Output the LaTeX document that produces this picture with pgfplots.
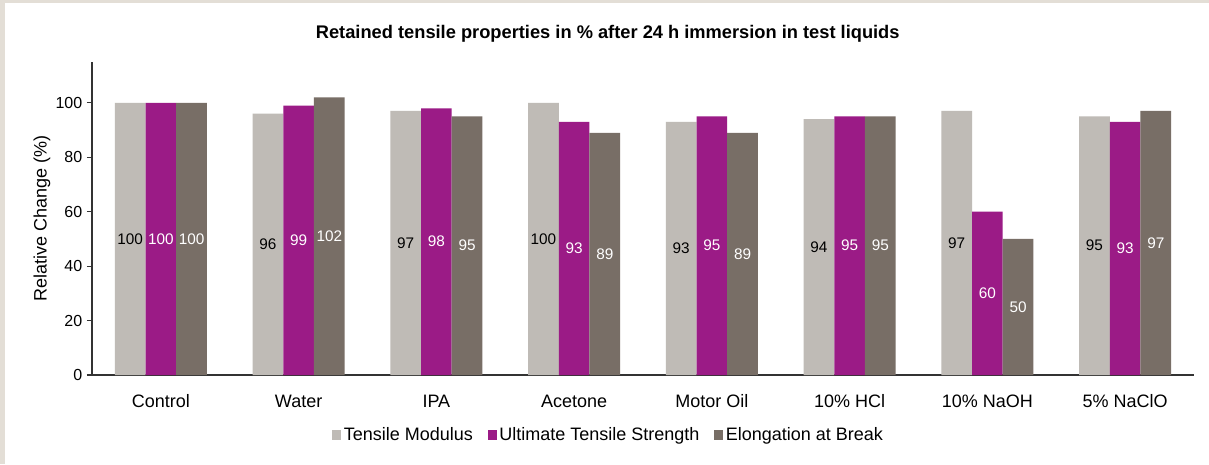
\documentclass[border=0pt]{standalone}
\usepackage{pgfplots}
\pgfplotsset{compat=1.18}
\usepackage{pgfplotstable}
\usepackage{fontspec}
\setmainfont{Liberation Sans}
\definecolor{tmcol}{HTML}{BFBBB6}
\definecolor{utscol}{HTML}{9B1B86}
\definecolor{eabcol}{HTML}{786E66}
\definecolor{beige}{HTML}{E3DED6}
\pgfplotstableread{
x tm uts eab
0 100 100 100
1 96 99 102
2 97 98 95
3 100 93 89
4 93 95 89
5 94 95 95
6 97 60 50
7 95 93 97
}\datatable
\begin{document}
\begin{tikzpicture}
\useasboundingbox (0,0) rectangle (906.75pt,-348pt);
\fill[beige] (0,0) rectangle (906.75pt,-348pt);
\fill[white] (3.75pt,-2.25pt) rectangle (906.75pt,-348pt);
\begin{axis}[
  at={(69pt,-281.25pt)}, anchor=south west,
  scale only axis, width=826.5pt, height=234.75pt,
  xmin=-0.5, xmax=7.5, ymin=0, ymax=115,
  axis x line*=bottom, axis y line*=left,
  axis line style={black!80, line width=0.8pt, -},
  xtick={0,...,7},
  xticklabels={Control,Water,IPA,Acetone,Motor Oil,10\% HCl,10\% NaOH,5\% NaClO},
  xtick style={draw=none},
  xticklabel style={font=\fontsize{13.5}{15}\selectfont, anchor=base, yshift=-20.8pt},
  ytick={0,20,...,100},
  tick align=outside, major tick length=3.75pt,
  ytick style={black!80, line width=0.8pt},
  yticklabel style={font=\fontsize{12}{14}\selectfont},
  /pgf/number format/assume math mode=true,
  ylabel={Relative Change (\%)},
  ylabel style={at={(axis description cs:-0.0454,0.5)}, anchor=center, font=\fontsize{13.5}{15}\selectfont},
  title={Retained tensile properties in \% after 24 h immersion in test liquids},
  title style={at={(axis description cs:0.468,1)}, anchor=base, yshift=11.6pt, font=\bfseries\fontsize{13.7}{15}\selectfont},
  ybar, bar width=23pt,
  nodes near coords,
  visualization depends on=rawy \as \rawy,
  nodes near coords style={anchor=center, yshift=-\rawy*1.02065pt, font=\fontsize{11.5}{13}\selectfont},
  legend columns=-1,
  legend style={at={(axis description cs:0.469,-0.1917)}, anchor=center, draw=none, fill=none,
    font=\fontsize{13.5}{15}\selectfont,
    /tikz/every even column/.append style={column sep=9pt},
    nodes={inner sep=2pt}},
  legend image code/.code={\fill[#1] (0pt,-3.4pt) rectangle (6.8pt,3.4pt);},
]
\addplot[fill=tmcol, draw=none, bar shift=-23pt, nodes near coords style={text=black}] table[x=x, y=tm] {\datatable};
\addplot[fill=utscol, draw=none, bar shift=0pt, nodes near coords style={text=white}] table[x=x, y=uts] {\datatable};
\addplot[fill=eabcol, draw=none, bar shift=23pt, nodes near coords style={text=white}] table[x=x, y=eab] {\datatable};
\legend{Tensile Modulus, Ultimate Tensile Strength, Elongation at Break}
\end{axis}
\end{tikzpicture}
\end{document}
